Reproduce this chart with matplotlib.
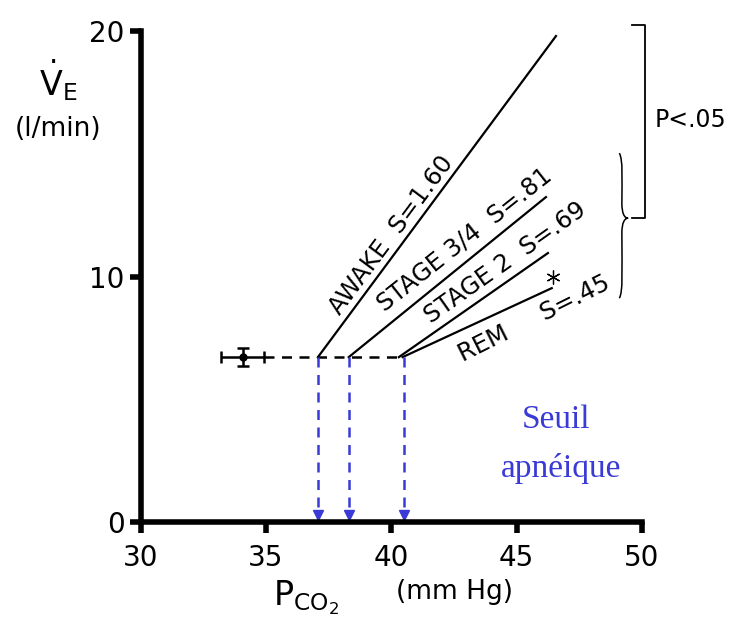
import numpy as np
import matplotlib.pyplot as plt
from matplotlib.path import Path
from matplotlib.patches import PathPatch

# données
stades = ["AWAKE", "STAGE 3/4", "STAGE 2", "REM"]
etiquettes = ["AWAKE  S=1.60", "STAGE 3/4  S=.81", "STAGE 2  S=.69", "REM     S=.45"]
x_debut = [37.07, 38.3, 40.3, 40.45]
x_fin = [46.57, 46.17, 46.25, 46.4]
y_fin = [19.8, 13.24, 10.96, 9.53]
seuils = [37.07, 38.3, 40.5]
y_seuil = 6.72

# point moyen éveil (PCO2, VE) avec barres d'erreur
pt_x, pt_y = 34.07, 6.72
err_x, err_y = 0.85, 0.37

# positions / angles du texte le long des droites
txt_x = [40.02, 42.9, 44.55, 45.7]
txt_y = [11.68, 11.5, 10.55, 8.3]
txt_rot = [53.3, 38.4, 35.3, 26.5]

bleu = "#3a3ad6"

fig = plt.figure(figsize=(7.37, 6.23), dpi=100)
ax = fig.add_axes([0.191, 0.162, 0.68, 0.788])

for i in range(len(stades)):
    ax.plot([x_debut[i], x_fin[i]], [y_seuil, y_fin[i]], color="black", lw=1.6)
    ax.text(txt_x[i], txt_y[i], etiquettes[i], rotation=txt_rot[i],
            rotation_mode="anchor", ha="center", va="center", fontsize=17.5)

# étoile REM
ax.plot(x_fin[3] + 0.05, 10.0, marker=(6, 2, 0), ms=10, color="black", mew=0.9)

# ligne horizontale pointillée
ax.plot([pt_x + err_x, max(x_debut)], [y_seuil, y_seuil], color="black",
        lw=1.8, dashes=(4, 3))
ax.errorbar(pt_x, pt_y, xerr=err_x, yerr=err_y, fmt="o", color="black",
            ms=5, lw=1.8, capsize=4, capthick=1.8)

# flèches bleues vers l'axe des x
for s in seuils:
    ax.plot([s, s], [y_seuil, 0.35], color=bleu, lw=1.8, dashes=(4, 3))
    ax.plot(s, 0.3, marker="v", color=bleu, ms=7)

ax.text(46.57, 4.15, "Seuil", color=bleu, fontsize=24, family="Liberation Serif",
        ha="center", va="center")
ax.text(46.77, 2.2, "apnéique", color=bleu, fontsize=24, family="Liberation Serif",
        ha="center", va="center")

# crochet P<.05
ax.plot([49.6, 50.12, 50.12, 49.6], [20.24, 20.24, 12.38, 12.38], color="black",
        lw=1.3, clip_on=False)
ax.text(50.5, 16.4, "P<.05", fontsize=17, va="center", clip_on=False)

# accolade
bx, ytop, ybas, ymid = 49.2, 15.03, 9.12, 12.38
verts = [(bx - 0.1, ytop), (bx + 0.05, ytop - 0.3), (bx, ytop - 1.0), (bx, ymid + 0.6),
         (bx, ymid + 0.2), (bx + 0.1, ymid), (bx + 0.25, ymid),
         (bx + 0.1, ymid), (bx, ymid - 0.2), (bx, ymid - 0.6),
         (bx, ybas + 1.0), (bx + 0.05, ybas + 0.3), (bx - 0.1, ybas)]
codes = [Path.MOVETO] + [Path.CURVE4] * 12
ax.add_patch(PathPatch(Path(verts, codes), fill=False, lw=1.1, clip_on=False))

ax.set_xlim(30, 50)
ax.set_ylim(0, 20)
ax.set_xticks([30, 35, 40, 45, 50])
ax.set_yticks([0, 10, 20])
ax.spines["top"].set_visible(False)
ax.spines["right"].set_visible(False)
ax.spines["left"].set_linewidth(4)
ax.spines["bottom"].set_linewidth(4)
ax.tick_params(width=4, length=8, labelsize=20)
ax.tick_params(axis="x", pad=8)

ax.text(-0.165, 0.90, r"$\dot{\mathrm{V}}_\mathrm{E}$", transform=ax.transAxes,
        fontsize=24, ha="center", va="center")
ax.text(-0.165, 0.80, "(l/min)", transform=ax.transAxes, fontsize=19,
        ha="center", va="center")
fig.text(0.415, 0.04, r"P$_{\mathrm{CO_2}}$", fontsize=24, ha="center", va="center")
fig.text(0.617, 0.05, "(mm Hg)", fontsize=19, ha="center", va="center")

plt.savefig("out.png")
